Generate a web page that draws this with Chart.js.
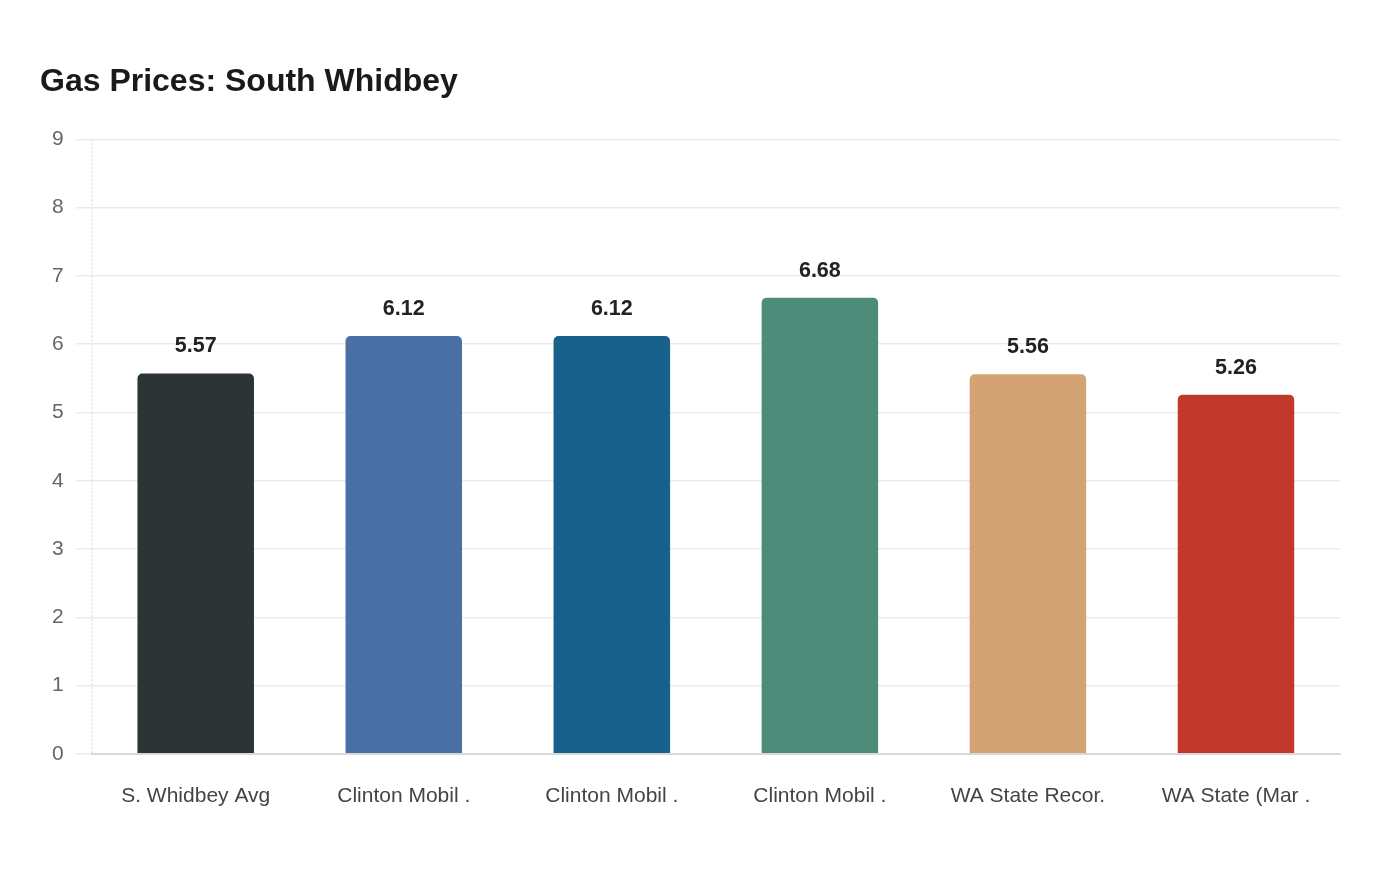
<!DOCTYPE html>
<html>
<head>
<meta charset="utf-8">
<script src="https://cdn.jsdelivr.net/npm/chart.js@4/dist/chart.umd.min.js"></script>
<style>
html,body{margin:0;padding:0;background:#fff;font-family:"Liberation Sans", Arial, sans-serif;}
#wrap{width:1400px;height:880px;position:relative;}
</style>
</head>
<body>
<div id="wrap"><canvas id="c"></canvas></div>
<script>
const categories = ["S. Whidbey Avg", "Clinton Mobil .", "Clinton Mobil .", "Clinton Mobil .", "WA State Recor.", "WA State (Mar ."];
const prices = [5.57, 6.12, 6.12, 6.68, 5.56, 5.26];
const barColors = ["#2d3436", "#4a6fa5", "#17618a", "#4e8c7a", "#d4a373", "#c0392b"];
const yTicks = [0, 1, 2, 3, 4, 5, 6, 7, 8, 9];

const FONT = '"Liberation Sans", Arial, Helvetica, sans-serif';
Chart.defaults.font.family = FONT;

const valueLabels = {
  id: 'valueLabels',
  afterDatasetsDraw(chart) {
    const ctx = chart.ctx;
    const meta = chart.getDatasetMeta(0);
    ctx.save();
    ctx.font = 'bold 21.5px ' + FONT;
    ctx.fillStyle = '#222';
    ctx.textAlign = 'center';
    ctx.textBaseline = 'middle';
    meta.data.forEach((bar, i) => {
      ctx.fillText(prices[i].toFixed(2), bar.x, bar.y - 27);
    });
    ctx.restore();
  }
};

const dashedYAxis = {
  id: 'dashedYAxis',
  beforeDatasetsDraw(chart) {
    const ctx = chart.ctx;
    const a = chart.chartArea;
    ctx.save();
    ctx.strokeStyle = '#d6d6d6';
    ctx.lineWidth = 1;
    ctx.setLineDash([2, 2]);
    ctx.beginPath();
    ctx.moveTo(a.left + 0.5, a.top);
    ctx.lineTo(a.left + 0.5, a.bottom);
    ctx.stroke();
    ctx.restore();
  }
};

function build() {
  new Chart(document.getElementById('c'), {
    type: 'bar',
    data: {
      labels: categories,
      datasets: [{
        data: prices,
        backgroundColor: barColors,
        borderWidth: 0,
        borderRadius: {topLeft: 5, topRight: 5, bottomLeft: 0, bottomRight: 0},
        borderSkipped: false,
        barPercentage: 0.7,
        categoryPercentage: 0.8
      }]
    },
    options: {
      responsive: true,
      maintainAspectRatio: false,
      animation: false,
      layout: {padding: {left: 40, right: 60, top: 44, bottom: 41}},
      plugins: {
        legend: {display: false},
        tooltip: {enabled: false},
        title: {
          display: true,
          text: 'Gas Prices: South Whidbey',
          align: 'start',
          color: '#1a1a1a',
          font: {family: FONT, size: 32, weight: 'bold'},
          padding: {top: 19, bottom: 38}
        }
      },
      scales: {
        x: {
          grid: {display: false, drawTicks: false},
          border: {display: true, color: '#d9d9d9', width: 2},
          ticks: {
            color: '#444',
            padding: 30,
            font: {family: FONT, size: 21}
          }
        },
        y: {
          min: 0,
          max: 9,
          afterBuildTicks(axis) { axis.ticks = yTicks.map(v => ({value: v})); },
          grid: {color: '#ebebeb', lineWidth: 1.5, tickLength: 16, drawTicks: true},
          border: {display: false},
          ticks: {
            color: '#666',
            padding: 12,
            font: {family: FONT, size: 21}
          }
        }
      }
    },
    plugins: [dashedYAxis, valueLabels]
  });
}

const loads = [
  document.fonts.load('20px "Liberation Sans"'),
  document.fonts.load('bold 20px "Liberation Sans"')
];
Promise.all(loads).then(build, build);
</script>
</body>
</html>
